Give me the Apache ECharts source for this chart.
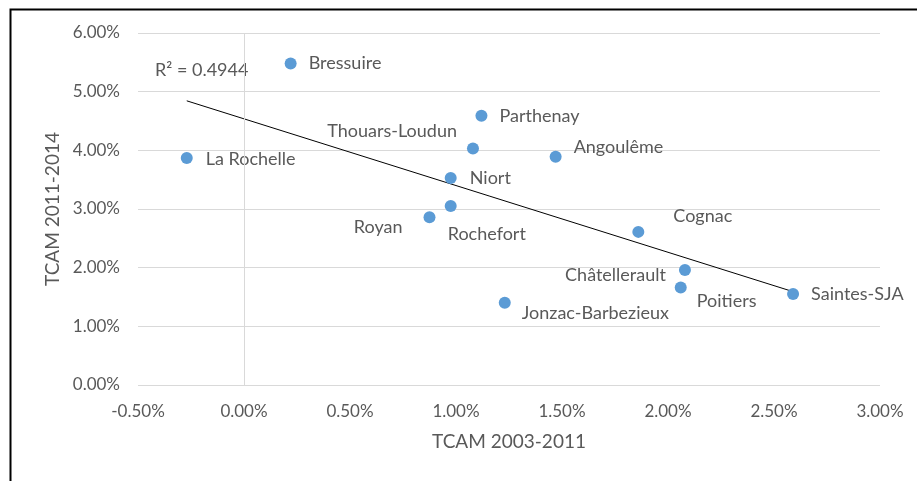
<!DOCTYPE html>
<html>
<head>
<meta charset="utf-8">
<script src="https://cdn.jsdelivr.net/npm/echarts@6/dist/echarts.min.js"></script>
<style>
  html, body { margin: 0; padding: 0; background: #fff; }
  #chart { width: 917px; height: 481px; }
</style>
</head>
<body>
<div id="chart"></div>
<script>
// villes et taux (en %)
const villes = ['Bressuire', 'La Rochelle', 'Parthenay', 'Thouars-Loudun', 'Angoulême', 'Niort',
    'Rochefort', 'Royan', 'Cognac', 'Châtellerault', 'Poitiers', 'Jonzac-Barbezieux', 'Saintes-SJA'];
const tcam0311 = [0.22, -0.27, 1.12, 1.08, 1.47, 0.975, 0.975, 0.875, 1.86, 2.08, 2.06, 1.23, 2.59];
const tcam1114 = [5.48, 3.87, 4.59, 4.03, 3.89, 3.53, 3.05, 2.86, 2.61, 1.96, 1.66, 1.40, 1.55];
const r2Text = 'R² = 0.4944';

// placement des étiquettes : [alignement, dx, dy]
const etiquettes = {
    'Bressuire': ['left', 18, 0],
    'La Rochelle': ['left', 19, 1],
    'Parthenay': ['left', 18, 0],
    'Thouars-Loudun': ['right', -16, -17],
    'Angoulême': ['left', 18, -10],
    'Niort': ['left', 19, 0],
    'Rochefort': ['left', -3, 28],
    'Royan': ['right', -27, 10],
    'Cognac': ['left', 35, -16],
    'Châtellerault': ['right', -19, 5],
    'Poitiers': ['left', 16, 14],
    'Jonzac-Barbezieux': ['left', 17, 10],
    'Saintes-SJA': ['left', 18, 0]
};

const font = 'Lato, "Open Sans", sans-serif';
const gris = '#595959';

// courbe de tendance linéaire (moindres carrés)
const n = tcam0311.length;
const mx = tcam0311.reduce((a, b) => a + b, 0) / n;
const my = tcam1114.reduce((a, b) => a + b, 0) / n;
let sxy = 0, sxx = 0;
for (let i = 0; i < n; i++) {
    sxy += (tcam0311[i] - mx) * (tcam1114[i] - my);
    sxx += (tcam0311[i] - mx) * (tcam0311[i] - mx);
}
const pente = sxy / sxx;
const origine = my - pente * mx;
const xmin = Math.min(...tcam0311), xmax = Math.max(...tcam0311);
const tendance = [[xmin, origine + pente * xmin], [xmax, origine + pente * xmax]];

const points = villes.map(function (v, i) {
    const e = etiquettes[v];
    return {
        name: v,
        value: [tcam0311[i], tcam1114[i]],
        label: { align: e[0], offset: [e[1], e[2]] }
    };
});

const chart = echarts.init(document.getElementById('chart'));
const pct = function (v) { return v.toFixed(2) + '%'; };

chart.setOption({
    animation: false,
    textStyle: { fontFamily: font },
    grid: { left: 138, right: 37, top: 33, bottom: 96 },
    xAxis: {
        type: 'value',
        min: -0.5, max: 3, interval: 0.5,
        name: 'TCAM 2003-2011',
        nameLocation: 'middle',
        nameGap: 47,
        nameTextStyle: { color: gris, fontSize: 19, fontFamily: font },
        axisLine: { show: false },
        axisTick: { show: false },
        splitLine: { show: false },
        axisLabel: { color: gris, fontSize: 17, margin: 18, formatter: pct, fontFamily: font }
    },
    yAxis: {
        type: 'value',
        min: 0, max: 6, interval: 1,
        name: 'TCAM 2011-2014',
        nameLocation: 'middle',
        nameGap: 76,
        nameTextStyle: { color: gris, fontSize: 19, fontFamily: font },
        axisLine: { show: false },
        axisTick: { show: false },
        splitLine: { lineStyle: { color: '#d9d9d9', width: 1 } },
        axisLabel: { color: gris, fontSize: 17, margin: 18, formatter: pct, fontFamily: font }
    },
    graphic: [
        { type: 'rect', left: 8, top: 7, shape: { width: 930, height: 500 },
          style: { fill: 'none', stroke: '#000', lineWidth: 2 }, silent: true },
        { type: 'text', left: 155, top: 61, silent: true,
          style: { text: r2Text, fill: gris, font: '18px ' + font } }
    ],
    series: [
        {
            type: 'line',
            data: tendance,
            symbol: 'none',
            silent: true,
            lineStyle: { color: '#000', width: 1 },
            markLine: {
                silent: true,
                symbol: 'none',
                label: { show: false },
                lineStyle: { color: '#d9d9d9', width: 1, type: 'solid' },
                data: [{ xAxis: 0 }]
            },
            z: 3
        },
        {
            type: 'scatter',
            data: points,
            symbolSize: 12,
            itemStyle: { color: '#5b9bd5', opacity: 1 },
            label: {
                show: true,
                position: 'inside',
                verticalAlign: 'middle',
                formatter: '{b}',
                color: gris,
                fontSize: 18,
                fontFamily: font
            },
            z: 4
        }
    ]
});
</script>
</body>
</html>
